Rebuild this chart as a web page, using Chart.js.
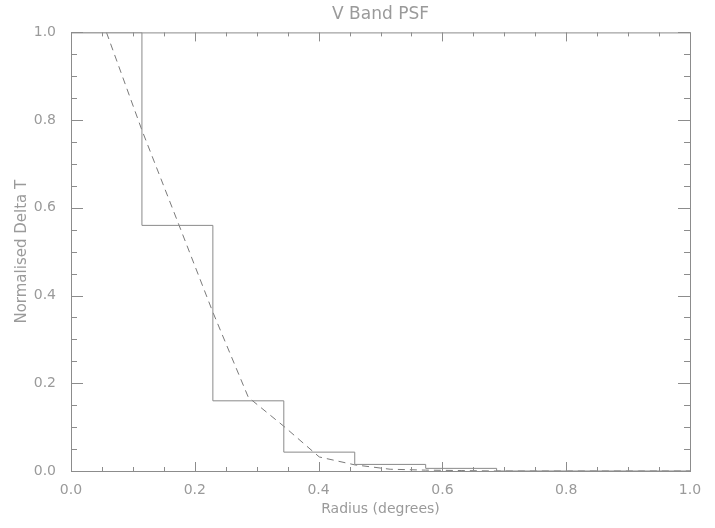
<!DOCTYPE html>
<html>
<head>
<meta charset="utf-8">
<script src="https://cdn.jsdelivr.net/npm/chart.js@4"></script>
<style>
  html, body { margin: 0; padding: 0; background: #fff; }
  #wrap { width: 715px; height: 528px; }
</style>
</head>
<body>
<div id="wrap"><canvas id="psfChart"></canvas></div>
<script>
// Histogram bins (left edges + final right edge) and their normalised values
const binEdges = [0.0, 0.1146, 0.2292, 0.3438, 0.4584, 0.5730, 0.6876, 0.8022, 0.9168, 1.0];
const binValues = [1.0, 0.56, 0.16, 0.043, 0.015, 0.006, 0.0, 0.0, 0.0];

// Fitted PSF curve (dashed)
const psfRadius = [0.0573, 0.1146, 0.1719, 0.2292, 0.2865, 0.3438, 0.4011, 0.4584, 0.5157,
                   0.5730, 0.6303, 0.6876, 0.7449, 0.8022, 0.8595, 0.9168, 0.9741, 1.0];
const psfValues = [1.0, 0.777, 0.57, 0.362, 0.168, 0.102, 0.032, 0.014, 0.004,
                   0.002, 0.001, 0.0, 0.0, 0.0, 0.0, 0.0, 0.0, 0.0];

// Axis ticks
const xMajor = [0.0, 0.2, 0.4, 0.6, 0.8, 1.0];
const yMajor = [0.0, 0.2, 0.4, 0.6, 0.8, 1.0];

const AXIS = '#8c8c8c';
const TEXT = '#9a9a9a';
const FONT = "'DejaVu Sans', sans-serif";

const histPoints = binValues.map((v, i) => ({ x: binEdges[i], y: v }));
histPoints.push({ x: binEdges[binEdges.length - 1], y: binValues[binValues.length - 1] });

const psfPoints = psfRadius.map((r, i) => ({ x: r, y: psfValues[i] }));

// IDL style box with inward major/minor ticks on all four sides
const idlFrame = {
    id: 'idlFrame',
    afterDraw(chart) {
        const { ctx, chartArea: a, scales } = chart;
        const xs = scales.x, ys = scales.y;
        ctx.save();
        ctx.strokeStyle = AXIS;
        ctx.lineWidth = 1;
        ctx.strokeRect(a.left + 0.5, a.top + 0.5, a.right - a.left, a.bottom - a.top);
        ctx.beginPath();
        for (let i = 0; i <= 20; i++) {
            const v = i * 0.05;
            const major = i % 4 === 0;
            const px = Math.round(xs.getPixelForValue(v)) + 0.5;
            const lx = major ? 9 : 4;
            ctx.moveTo(px, a.bottom); ctx.lineTo(px, a.bottom - lx);
            ctx.moveTo(px, a.top); ctx.lineTo(px, a.top + lx);
            const py = Math.round(ys.getPixelForValue(v)) + 0.5;
            const ly = major ? 12 : 6;
            ctx.moveTo(a.left, py); ctx.lineTo(a.left + ly, py);
            ctx.moveTo(a.right, py); ctx.lineTo(a.right - ly, py);
        }
        ctx.stroke();
        ctx.restore();
    }
};

new Chart(document.getElementById('psfChart'), {
    type: 'scatter',
    data: {
        datasets: [{
            label: 'Measured',
            data: histPoints,
            showLine: true,
            stepped: 'before',
            borderColor: '#8a8a8a',
            borderWidth: 1,
            pointRadius: 0,
            fill: false
        }, {
            label: 'PSF fit',
            data: psfPoints,
            showLine: true,
            borderColor: '#7a7a7a',
            borderWidth: 1,
            borderDash: [7, 5],
            pointRadius: 0,
            fill: false
        }]
    },
    options: {
        responsive: true,
        maintainAspectRatio: false,
        animation: false,
        layout: { padding: { left: 0, right: 25, top: 0, bottom: 0 } },
        plugins: {
            legend: { display: false },
            tooltip: { enabled: false },
            title: {
                display: true,
                fullSize: false,
                text: 'V Band PSF',
                color: TEXT,
                font: { family: FONT, size: 17, weight: 'normal' },
                padding: { top: 4, bottom: 8 }
            }
        },
        scales: {
            x: {
                type: 'linear',
                min: 0, max: 1,
                afterBuildTicks: s => { s.ticks = xMajor.map(v => ({ value: v })); },
                afterFit: s => { s.height = 57; },
                grid: { display: false, drawTicks: false },
                border: { display: false },
                ticks: {
                    color: TEXT,
                    padding: 11,
                    font: { family: FONT, size: 14 },
                    callback: v => v.toFixed(1)
                },
                title: {
                    display: true,
                    text: 'Radius (degrees)',
                    color: TEXT,
                    font: { family: FONT, size: 14 },
                    padding: { top: 0, bottom: 10 }
                }
            },
            y: {
                type: 'linear',
                min: 0, max: 1,
                afterBuildTicks: s => { s.ticks = yMajor.map(v => ({ value: v })); },
                afterFit: s => { s.width = 71; },
                grid: { display: false, drawTicks: false },
                border: { display: false },
                ticks: {
                    color: TEXT,
                    padding: 15,
                    font: { family: FONT, size: 14 },
                    callback: v => v.toFixed(1)
                },
                title: {
                    display: true,
                    text: 'Normalised Delta T',
                    color: TEXT,
                    font: { family: FONT, size: 15 },
                    padding: { top: 13, bottom: 0 }
                }
            }
        }
    },
    plugins: [idlFrame]
});
</script>
</body>
</html>
